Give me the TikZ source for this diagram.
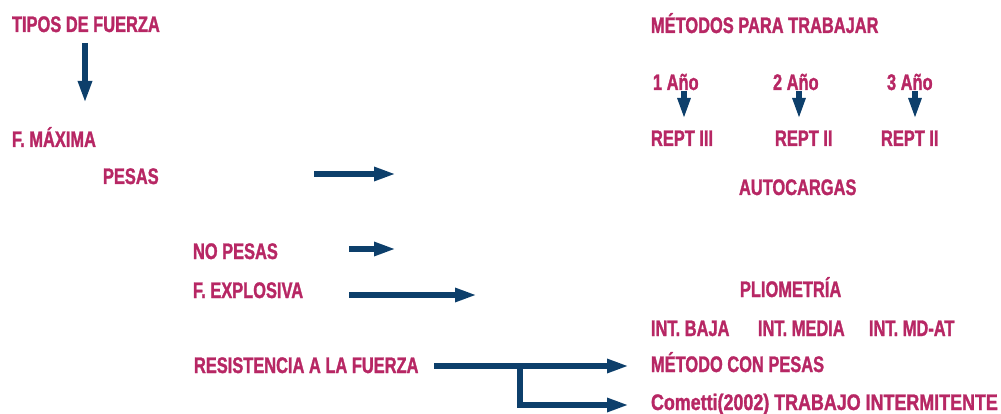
\documentclass[tikz,border=0pt]{standalone}
\usepackage{fontspec}
\setmainfont{Liberation Sans}[FakeStretch=0.73, BoldFeatures={FakeBold=1.3}]
\newfontfamily\wideSans{Liberation Sans}[FakeStretch=0.795, BoldFeatures={FakeBold=1.3}]
\usetikzlibrary{arrows.meta}
\definecolor{txtpink}{RGB}{183,39,100}
\definecolor{arrnavy}{RGB}{13,63,107}
\tikzset{
  lbl/.style={anchor=base west, inner sep=0pt, outer sep=0pt, text=txtpink,
    font=\fontsize{22.5}{26}\selectfont\bfseries},
  bigarrow/.style={draw=arrnavy, line width=5.5pt,
    -{Triangle[length=22pt,width=13pt]}},
  smallarrow/.style={draw=arrnavy, line width=6pt,
    -{Triangle[length=21pt,width=12pt]}},
  elbow/.style={draw=arrnavy, line width=5.5pt}
}
\begin{document}
\begin{tikzpicture}[x=1pt,y=-1pt]
\useasboundingbox (0,0) rectangle (1001,414);
% left column
\node[lbl] (tipos) at (12,32) {TIPOS DE FUERZA};
\node[lbl] (fmax) at (12,147) {F. MÁXIMA};
\node[lbl] (pesas) at (103,184) {PESAS};
\node[lbl] (nopesas) at (193,259) {NO PESAS};
\node[lbl] (fexp) at (193,298) {F. EXPLOSIVA};
\node[lbl] (resist) at (194,373) {RESISTENCIA A LA FUERZA};
% right column
\node[lbl] (metodos) at (651,33) {MÉTODOS PARA TRABAJAR};
\node[lbl] (a1) at (653,90) {1 Año};
\node[lbl] (a2) at (773,90) {2 Año};
\node[lbl] (a3) at (887,90) {3 Año};
\node[lbl] (r1) at (651,146) {REPT III};
\node[lbl] (r2) at (775,146) {REPT II};
\node[lbl] (r3) at (881,146) {REPT II};
\node[lbl] (auto) at (739,195) {AUTOCARGAS};
\node[lbl] (plio) at (740,297) {PLIOMETRÍA};
\node[lbl] (ib) at (651,336) {INT. BAJA};
\node[lbl] (im) at (758,336) {INT. MEDIA};
\node[lbl] (ia) at (869,336) {INT. MD-AT};
\node[lbl] (mcp) at (651,372) {MÉTODO CON PESAS};
\node[lbl, font=\fontsize{22.5}{26}\selectfont\wideSans\bfseries] (comet) at (651,410) {Cometti(2002) TRABAJO INTERMITENTE};
% coordinates
\coordinate (t1) at (85,43);   \coordinate (t2) at (85,103);
\coordinate (p1) at (314,174); \coordinate (p2) at (396,174);
\coordinate (n1) at (349,249); \coordinate (n2) at (396,249);
\coordinate (e1) at (349,295); \coordinate (e2) at (477,295);
\coordinate (s1) at (684,91);  \coordinate (s2) at (684,119);
\coordinate (s3) at (799,91);  \coordinate (s4) at (799,119);
\coordinate (s5) at (915,91);  \coordinate (s6) at (915,119);
\coordinate (m1) at (434,366); \coordinate (m2) at (629,366);
\coordinate (b1) at (520,366); \coordinate (b2) at (520,405); \coordinate (b3) at (629,405);
% arrows
\draw[bigarrow] (t1) -- (t2);
\draw[bigarrow] (p1) -- (p2);
\draw[bigarrow] (n1) -- (n2);
\draw[bigarrow] (e1) -- (e2);
\draw[smallarrow] (s1) -- (s2);
\draw[smallarrow] (s3) -- (s4);
\draw[smallarrow] (s5) -- (s6);
\draw[bigarrow] (m1) -- (m2);
\draw[elbow] (b1) -- ([yshift=2.75pt]b2);
\draw[bigarrow] ([xshift=-2.75pt]b2) -- (b3);
\end{tikzpicture}
\end{document}
